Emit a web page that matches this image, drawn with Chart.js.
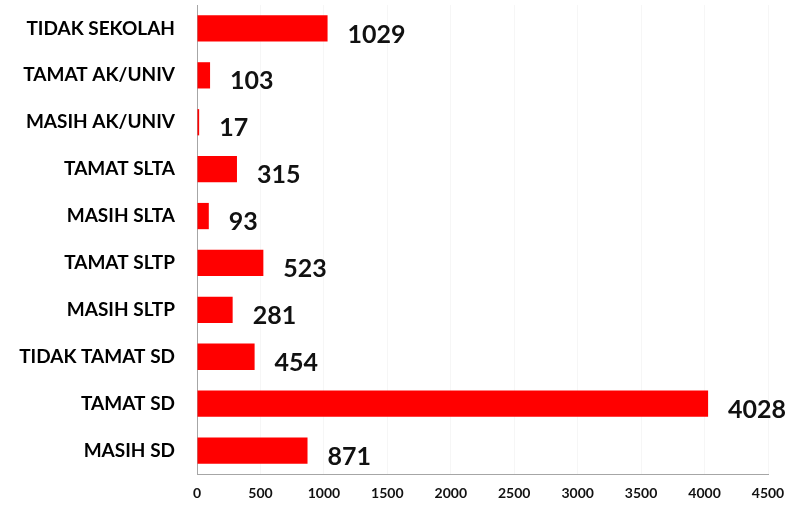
<!DOCTYPE html>
<html>
<head>
<meta charset="utf-8">
<script src="https://cdn.jsdelivr.net/npm/chart.js@4"></script>
<style>
  body { margin: 0; background: #fff; }
  #wrap { width: 788px; height: 511px; }
</style>
</head>
<body>
<div id="wrap"><canvas id="myChart" width="788" height="511"></canvas></div>
<script>
const categories = ['TIDAK SEKOLAH', 'TAMAT AK/UNIV', 'MASIH AK/UNIV', 'TAMAT SLTA', 'MASIH SLTA',
  'TAMAT SLTP', 'MASIH SLTP', 'TIDAK TAMAT SD', 'TAMAT SD', 'MASIH SD'];
const values = [1029, 103, 17, 315, 93, 523, 281, 454, 4028, 871];
const xTicks = [0, 500, 1000, 1500, 2000, 2500, 3000, 3500, 4000, 4500];

// draws the big numbers to the right of each bar
const valueLabels = {
  id: 'valueLabels',
  afterDatasetsDraw(chart) {
    const ctx = chart.ctx;
    const meta = chart.getDatasetMeta(0);
    ctx.save();
    ctx.font = 'bold 25px Lato';
    ctx.fillStyle = '#111';
    ctx.textAlign = 'left';
    ctx.textBaseline = 'middle';
    meta.data.forEach((bar, i) => {
      ctx.fillText(values[i], bar.x + 20, bar.y + 6);
    });
    ctx.restore();
  }
};

const ctx = document.getElementById('myChart');
const myChart = new Chart(ctx, {
  type: 'bar',
  data: {
    labels: categories,
    datasets: [{
      data: values,
      backgroundColor: '#ff0000',
      borderWidth: 0,
      categoryPercentage: 1,
      barPercentage: 0.56
    }]
  },
  options: {
    indexAxis: 'y',
    responsive: false,
    animation: false,
    layout: { padding: { top: 5, right: 20, left: 0, bottom: 0 } },
    plugins: { legend: { display: false }, tooltip: { enabled: false } },
    scales: {
      x: {
        min: 0,
        max: 4500,
        afterBuildTicks: s => { s.ticks = xTicks.map(v => ({ value: v })); },
        afterFit: s => { s.height = 37; s.paddingLeft = 0; s.paddingRight = 0; },
        grid: { color: '#f6f6f6', drawTicks: false },
        border: { color: '#a6a6a6' },
        ticks: { color: '#111', font: { family: 'Lato', size: 14, weight: 'bold' }, padding: 11, maxRotation: 0,
          callback: v => String(v) }
      },
      y: {
        afterFit: s => { s.width = 197; s.paddingTop = 0; s.paddingBottom = 0; },
        grid: { display: false },
        border: { color: '#a6a6a6' },
        ticks: { color: '#000', font: { family: 'Lato', size: 19, weight: 'bold' }, padding: 14 }
      }
    }
  },
  plugins: [valueLabels]
});
</script>
</body>
</html>
